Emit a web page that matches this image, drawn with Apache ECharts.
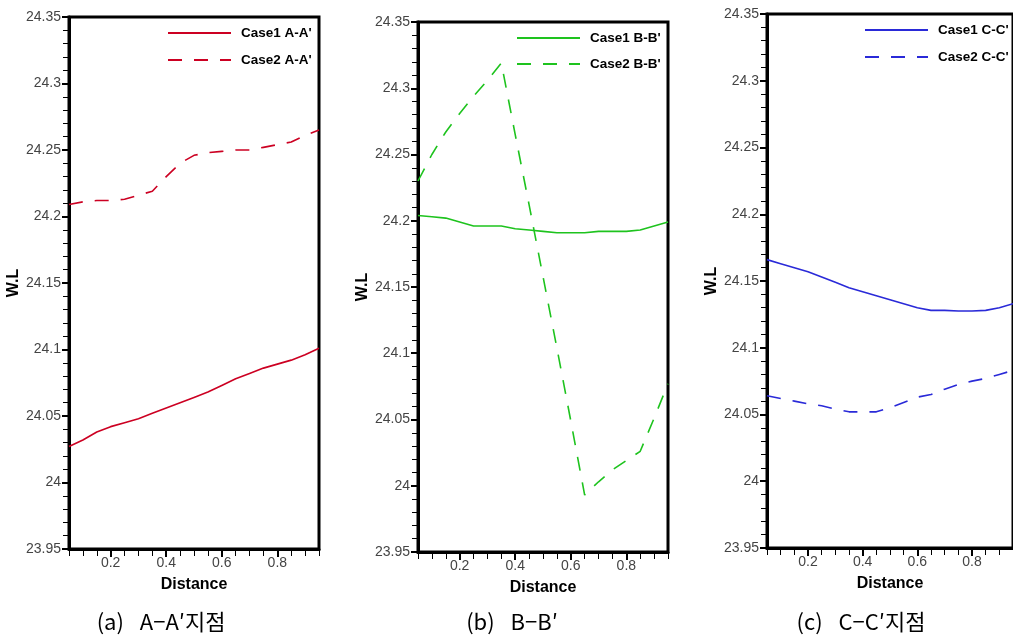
<!DOCTYPE html>
<html><head><meta charset="utf-8">
<script src="https://cdn.jsdelivr.net/npm/echarts@6/dist/echarts.min.js"></script>
<style>html,body{margin:0;padding:0;background:#fff}#c{width:1013px;height:643px}</style>
</head><body><div id="c"></div>
<script>
// ---- data ----
const distance = [0.05,0.10,0.15,0.20,0.25,0.30,0.35,0.40,0.45,0.50,0.55,0.60,0.65,0.70,0.75,0.80,0.85,0.90,0.95];
const case1A = [24.027,24.032,24.038,24.042,24.045,24.048,24.052,24.056,24.060,24.064,24.068,24.073,24.078,24.082,24.086,24.089,24.092,24.096,24.101];
const case2A = [24.209,24.211,24.212,24.212,24.213,24.216,24.219,24.230,24.240,24.246,24.248,24.249,24.250,24.250,24.252,24.254,24.256,24.261,24.265];
const case1B = [24.204,24.203,24.202,24.199,24.196,24.196,24.196,24.194,24.193,24.192,24.191,24.191,24.191,24.192,24.192,24.192,24.193,24.196,24.199];
const case2B = [24.230,24.250,24.267,24.281,24.294,24.306,24.319,24.265,24.212,24.158,24.104,24.049,23.993,24.003,24.012,24.019,24.026,24.051,24.077];
const case1C = [24.166,24.163,24.160,24.157,24.153,24.149,24.145,24.142,24.139,24.136,24.133,24.130,24.128,24.128,24.1275,24.1275,24.128,24.130,24.133];
const case2C = [24.064,24.062,24.060,24.058,24.0565,24.054,24.052,24.052,24.052,24.055,24.059,24.063,24.065,24.069,24.0725,24.075,24.077,24.080,24.083];
const seriesNames = [["Case1 A-A'", "Case2 A-A'"], ["Case1 B-B'", "Case2 B-B'"], ["Case1 C-C'", "Case2 C-C'"]];
const seriesValues = [[case1A, case2A], [case1B, case2B], [case1C, case2C]];
const captions = ["(a)\u2002 A\u2212A\u2032지점", "(b)\u2002 B\u2212B\u2032", "(c)\u2002 C\u2212C\u2032지점"];
const xMajorTicks = [0.2, 0.4, 0.6, 0.8];
const xMinorTicks = [0.05,0.10,0.15,0.25,0.30,0.35,0.45,0.50,0.55,0.65,0.70,0.75,0.85,0.90,0.95];
const xRange = [0.05, 0.95];
const yRange = [23.95, 24.35];
const yStep = 0.05;
const xTitle = 'Distance';
const yTitle = 'W.L';

// ---- layout / style ----
const panels = [
  {left: 69, top: 17, width: 250, height: 532, color: '#cc0022', legLeft: 167, legTop: 26, legGap: 13, capX: 161},
  {left: 418, top: 22, width: 250, height: 530, color: '#1ec31e', legLeft: 516, legTop: 31, legGap: 12, capX: 512},
  {left: 767, top: 14, width: 250, height: 534, color: '#2a2ad8', legLeft: 864, legTop: 23, legGap: 13, capX: 861}
];
const labelFont = 'Liberation Sans';

const option = {
  backgroundColor: '#fff',
  animation: false,
  grid: [], xAxis: [], yAxis: [], series: [], legend: [], graphic: []
};

panels.forEach((p, i) => {
  option.grid.push({left: p.left, top: p.top, width: p.width, height: p.height,
    show: true, borderColor: '#000', borderWidth: 3, backgroundColor: 'transparent'});
  option.xAxis.push({
    type: 'value', gridIndex: i, position: 'bottom', min: xRange[0], max: xRange[1],
    axisLine: {show: true, onZero: false, lineStyle: {color: '#000', width: 3}},
    axisTick: {show: true, inside: false, length: 8, customValues: xMajorTicks, lineStyle: {color: '#000', width: 2}},
    axisLabel: {show: true, customValues: xMajorTicks, margin: 7, fontSize: 14, color: '#444', fontFamily: labelFont,
      formatter: v => String(+v.toFixed(2))},
    splitLine: {show: false},
    name: xTitle, nameLocation: 'middle', nameGap: 28,
    nameTextStyle: {fontSize: 16, fontWeight: 'bold', color: '#000', fontFamily: labelFont}
  });
  option.xAxis.push({
    type: 'value', gridIndex: i, position: 'bottom', offset: 0, min: xRange[0], max: xRange[1],
    axisLine: {show: false},
    axisTick: {show: true, inside: false, length: 7, customValues: xMinorTicks, lineStyle: {color: '#000', width: 1}},
    axisLabel: {show: false},
    splitLine: {show: false}
  });
  option.yAxis.push({
    type: 'value', gridIndex: i, min: yRange[0], max: yRange[1], interval: yStep,
    axisLine: {show: true, onZero: false, lineStyle: {color: '#000', width: 3}},
    axisTick: {show: true, inside: false, length: 7, lineStyle: {color: '#000', width: 2}},
    minorTick: {show: true, splitNumber: 5, length: 6, lineStyle: {color: '#000', width: 1}},
    axisLabel: {margin: 8, fontSize: 14, color: '#444', fontFamily: labelFont},
    splitLine: {show: false}, minorSplitLine: {show: false},
    name: yTitle, nameLocation: 'middle', nameGap: 41, nameRotate: 90,
    nameTextStyle: {fontSize: 16, fontWeight: 'bold', color: '#000', fontFamily: labelFont}
  });
  seriesValues[i].forEach((vals, k) => {
    option.series.push({
      type: 'line', name: seriesNames[i][k], xAxisIndex: i * 2, yAxisIndex: i,
      data: distance.map((d, j) => [d, vals[j]]),
      symbol: 'none', showSymbol: false, smooth: false, clip: true,
      lineStyle: {color: p.color, width: 1.6, type: k === 0 ? 'solid' : [14, 12]},
      itemStyle: {color: p.color}
    });
  });
  option.legend.push({
    data: seriesNames[i], orient: 'vertical', left: p.legLeft, top: p.legTop, padding: 0,
    itemWidth: 63, itemHeight: 14, itemGap: p.legGap, selectedMode: false,
    itemStyle: {opacity: 0, color: 'transparent', borderWidth: 0},
    textStyle: {fontSize: 13.5, fontWeight: 'bold', color: '#000', fontFamily: labelFont, padding: [0, 0, 0, 5]}
  });
  option.graphic.push({
    type: 'text', x: p.capX, y: 622,
    style: {text: captions[i], x: 0, y: 0, textAlign: 'center', textVerticalAlign: 'middle',
      font: '22px "Noto Sans CJK KR", sans-serif', fill: '#000'}
  });
});

const chart = echarts.init(document.getElementById('c'), null, {renderer: 'canvas'});
chart.setOption(option);
</script>
</body></html>
